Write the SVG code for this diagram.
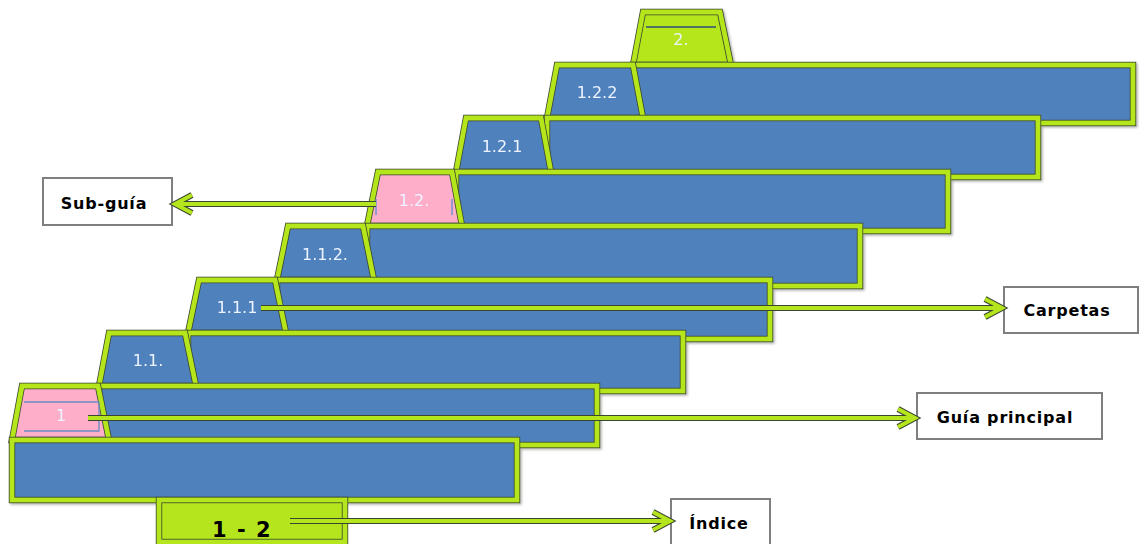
<svg xmlns="http://www.w3.org/2000/svg" width="1139" height="544" viewBox="0 0 1139 544">
  <defs>
    <filter id="soft-shadow" x="-5%" y="-5%" width="110%" height="115%">
      <feDropShadow dx="1.5" dy="1.5" stdDeviation="0.8" flood-color="#000" flood-opacity="0.3"/>
    </filter>
  </defs>
  <style>
    /* folder parts: first element paints the fill and a dark rim, second the lime band */
    .blue{fill:#4f81bd;stroke:#3a4530;stroke-width:6.4}
    .pink{fill:#ffaec9;stroke:#3a4530;stroke-width:6.4}
    .lime{fill:#b5e61d;stroke:#3a4530;stroke-width:6.4}
    .rim{fill:none;stroke:#b5e61d;stroke-width:4.8}
    .num{font-family:"DejaVu Sans",sans-serif;font-size:16px;fill:#eef4ff;text-anchor:middle}
    .mark{fill:none;stroke-width:1.3}
    .wire-halo{fill:none;stroke:#3a4530;stroke-width:6;stroke-linejoin:miter}
    .wire{fill:none;stroke:#b5e61d;stroke-width:4;stroke-linejoin:miter}
    .box{fill:#fff;stroke:#7f7f7f;stroke-width:2}
    .lbl{font-family:"DejaVu Sans",sans-serif;font-weight:bold;font-size:16px;fill:#000;letter-spacing:0.8px;text-anchor:middle}
    .big{font-family:"DejaVu Sans",sans-serif;font-weight:bold;font-size:21px;fill:#000;letter-spacing:1.5px;text-anchor:middle}
  </style>

  <!-- stack of folders, back to front -->
  <g id="folders" filter="url(#soft-shadow)">
    <g id="folder-2">
      <polygon class="lime" points="633,65 643,12 720,12 731,65"/>
      <polygon class="rim" points="633,65 643,12 720,12 731,65"/>
      <line class="mark" x1="646" y1="27" x2="716" y2="27" style="stroke:#2f4f7a"/>
      <rect class="blue" x="633" y="65" width="500" height="58"/>
      <rect class="rim" x="633" y="65" width="500" height="58"/>
      <text class="num" x="681" y="45">2.</text>
    </g>
    <g id="folder-1-2-2">
      <polygon class="blue" points="547,118 557,65 633,65 643,118"/>
      <polygon class="rim" points="547,118 557,65 633,65 643,118"/>
      <rect class="blue" x="547" y="118" width="491" height="59"/>
      <rect class="rim" x="547" y="118" width="491" height="59"/>
      <text class="num" x="597" y="98">1.2.2</text>
    </g>
    <g id="folder-1-2-1">
      <polygon class="blue" points="456,172 466,118 541,118 551,172"/>
      <polygon class="rim" points="456,172 466,118 541,118 551,172"/>
      <rect class="blue" x="456" y="172" width="492" height="59"/>
      <rect class="rim" x="456" y="172" width="492" height="59"/>
      <text class="num" x="502" y="152">1.2.1</text>
    </g>
    <g id="folder-1-2">
      <polygon class="pink" points="367,226 378,172 452,172 462,226"/>
      <polygon class="rim" points="367,226 378,172 452,172 462,226"/>
      <line class="mark" x1="376" y1="199" x2="376" y2="215" style="stroke:#5b8fd0"/>
      <line class="mark" x1="452" y1="199" x2="452" y2="215" style="stroke:#5b8fd0"/>
      <rect class="blue" x="367" y="226" width="493" height="60"/>
      <rect class="rim" x="367" y="226" width="493" height="60"/>
      <text class="num" x="414" y="206">1.2.</text>
    </g>
    <g id="folder-1-1-2">
      <polygon class="blue" points="277,280 288,226 363,226 374,280"/>
      <polygon class="rim" points="277,280 288,226 363,226 374,280"/>
      <rect class="blue" x="277" y="280" width="493" height="59"/>
      <rect class="rim" x="277" y="280" width="493" height="59"/>
      <text class="num" x="325" y="260">1.1.2.</text>
    </g>
    <g id="folder-1-1-1">
      <polygon class="blue" points="188,333 199,280 275,280 286,333"/>
      <polygon class="rim" points="188,333 199,280 275,280 286,333"/>
      <rect class="blue" x="188" y="333" width="495" height="58"/>
      <rect class="rim" x="188" y="333" width="495" height="58"/>
      <text class="num" x="237" y="313">1.1.1</text>
    </g>
    <g id="folder-1-1">
      <polygon class="blue" points="99,386 109,333 185,333 196,386"/>
      <polygon class="rim" points="99,386 109,333 185,333 196,386"/>
      <rect class="blue" x="99" y="386" width="498" height="59"/>
      <rect class="rim" x="99" y="386" width="498" height="59"/>
      <text class="num" x="148" y="366">1.1.</text>
    </g>
    <g id="folder-1">
      <polygon class="pink" points="12,440 22,386 98,386 109,440"/>
      <polygon class="rim" points="12,440 22,386 98,386 109,440"/>
      <polyline class="mark" points="24,402 99,402 99,431 24,431" style="stroke:#6b8cc4"/>
      <rect class="blue" x="12" y="440" width="505" height="60"/>
      <rect class="rim" x="12" y="440" width="505" height="60"/>
      <text class="num" x="61" y="421">1</text>
    </g>
  </g>

  <!-- index strip -->
  <g id="index-range">
    <rect class="lime" x="159" y="500" width="186" height="42"/>
    <rect class="rim" x="159" y="500" width="186" height="42"/>
    <text class="big" x="242" y="537">1 - 2</text>
  </g>

  <!-- label boxes -->
  <g id="label-sub-guia">
    <rect class="box" x="43" y="178" width="129" height="47"/>
    <text class="lbl" x="104" y="209">Sub-guía</text>
  </g>
  <g id="label-carpetas">
    <rect class="box" x="1004" y="287" width="134" height="46"/>
    <text class="lbl" x="1067" y="316">Carpetas</text>
  </g>
  <g id="label-guia-principal">
    <rect class="box" x="917" y="393" width="185" height="46"/>
    <text class="lbl" x="1005" y="423">Guía principal</text>
  </g>
  <g id="label-indice">
    <rect class="box" x="671" y="499" width="99" height="46"/>
    <text class="lbl" x="719" y="529">Índice</text>
  </g>

  <!-- connectors: lime lines with a dark rim and open chevron heads -->
  <g id="connectors">
    <g id="to-sub-guia">
      <path class="wire-halo" d="M376,204 H176 M192,195 L175,204 L192,213"/>
      <path class="wire" d="M376,204 H176 M192,195 L175,204 L192,213"/>
    </g>
    <g id="to-carpetas">
      <path class="wire-halo" d="M261,308 H1000 M985,299 L1002,308 L985,317"/>
      <path class="wire" d="M261,308 H1000 M985,299 L1002,308 L985,317"/>
    </g>
    <g id="to-guia-principal">
      <path class="wire-halo" d="M88,418 H913 M898,409 L915,418 L898,427"/>
      <path class="wire" d="M88,418 H913 M898,409 L915,418 L898,427"/>
    </g>
    <g id="to-indice">
      <path class="wire-halo" d="M290,521 H668 M653,512 L670,521 L653,530"/>
      <path class="wire" d="M290,521 H668 M653,512 L670,521 L653,530"/>
    </g>
  </g>
</svg>
